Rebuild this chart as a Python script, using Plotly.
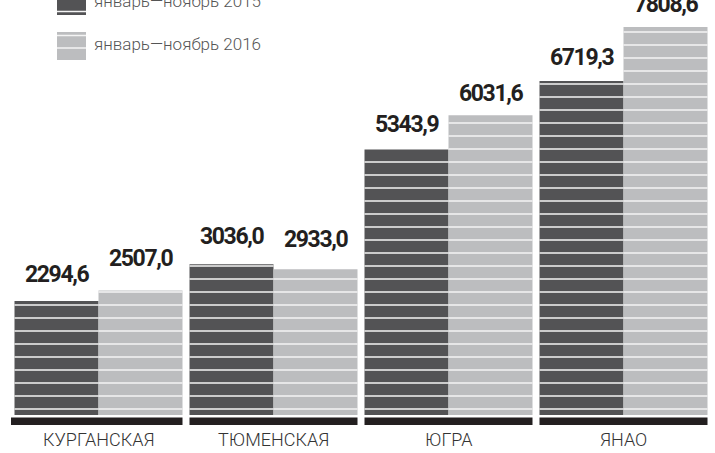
import plotly.graph_objects as go

# ---- data ----
categories = ["КУРГАНСКАЯ", "ТЮМЕНСКАЯ", "ЮГРА", "ЯНАО"]
series_names = ["январь—ноябрь 2015", "январь—ноябрь 2016"]
values_2015 = [2294.6, 3036.0, 5343.9, 6719.3]
values_2016 = [2507.0, 2933.0, 6031.6, 7808.6]
label_2015 = ["2294,6", "3036,0", "5343,9", "6719,3"]
label_2016 = ["2507,0", "2933,0", "6031,6", "7808,6"]

# ---- geometry / style ----
W, H = 715, 453
K = 0.04969            # px per unit
PX = 1.0 / K           # units per px
BASE_PX = 415          # baseline pixel row
y_min = -(H - BASE_PX) * PX
y_max = BASE_PX * PX
C0, PITCH = 98.5, 175.0
x_min = -C0 / PITCH
x_max = (W - C0) / PITCH
BW = 84.0 / PITCH      # single bar width in group units

DARK = "#535355"
LIGHT = "#bcbdbf"
BAND = "#231f20"
STRIPE = "#f4f4f4"

def px_x(px):
    return px / W

def px_y(px):
    return 1 - px / H

fig = go.Figure()
idx = list(range(len(categories)))
fig.add_trace(go.Bar(x=idx, y=values_2015, width=BW, offset=-BW, marker_color=DARK,
                     marker_line_width=0, name=series_names[0], hoverinfo="skip"))
fig.add_trace(go.Bar(x=idx, y=values_2016, width=BW, offset=0, marker_color=LIGHT,
                     marker_line_width=0, name=series_names[1], hoverinfo="skip"))

# white stripes on bars
sx, sy = [], []
for vals, off in ((values_2015, -BW), (values_2016, 0)):
    for i, v in enumerate(vals):
        x0 = i + off
        x1 = x0 + BW
        y = 6 * PX
        while y < v - 0.6 * PX:
            sx += [x0, x1, None]
            sy += [y, y, None]
            y += 13 * PX
fig.add_trace(go.Scatter(x=sx, y=sy, mode="lines", line=dict(color=STRIPE, width=1.5),
                         hoverinfo="skip", showlegend=False))

shapes = []
# baseline bands
for i in idx:
    shapes.append(dict(type="rect", xref="x", yref="y", x0=i - BW - (3.5 / PITCH if i == 0 else 0),
                       x1=i + BW, y0=-10 * PX, y1=-2.4 * PX, fillcolor=BAND, line_width=0))

annotations = []
label_font = dict(family="Roboto, sans-serif", size=23, color=BAND, weight="bold")
gaps_2015 = [16, 17, 14.5, 12.8]
gaps_2016 = [21, 19, 11, 12]
for labels, vals, off, gaps in ((label_2015, values_2015, -BW / 2, gaps_2015),
                                (label_2016, values_2016, BW / 2, gaps_2016)):
    for i in range(len(vals)):
        annotations.append(dict(x=i + off, y=vals[i], xref="x", yref="y",
                                text='<span style="letter-spacing:-1.4px">' + labels[i] + '</span>',
                                showarrow=False, yanchor="bottom", yshift=gaps[i] - 5,
                                font=label_font))

# category labels
for i, c in enumerate(categories):
    annotations.append(dict(x=i, y=px_y(439.7), xref="x", yref="paper", text=c,
                            showarrow=False, yanchor="middle",
                            font=dict(family="Roboto", size=18, color="#333333", weight=300)))

# legend
sw = [(-13, 15, DARK, [-1.5, 11.5]), (32, 60, LIGHT, [35.5, 48])]
for (t0, t1, col, st), name, cy in zip(sw, series_names, (1.2, 43.5)):
    shapes.append(dict(type="rect", xref="paper", yref="paper", x0=px_x(57), x1=px_x(86),
                       y0=px_y(t1), y1=px_y(t0), fillcolor=col, line_width=0))
    for s in st:
        shapes.append(dict(type="line", xref="paper", yref="paper", x0=px_x(57), x1=px_x(86),
                           y0=px_y(s), y1=px_y(s), line=dict(color=STRIPE, width=1.5)))
    annotations.append(dict(x=px_x(92), y=px_y(cy), xref="paper", yref="paper", text=name,
                            showarrow=False, xanchor="left", yanchor="middle",
                            font=dict(family="Roboto", size=17, color="#555555", weight=300)))

fig.update_layout(
    width=W, height=H, margin=dict(l=0, r=0, t=0, b=0),
    paper_bgcolor="white", plot_bgcolor="white",
    barmode="overlay", showlegend=False,
    xaxis=dict(range=[x_min, x_max], visible=False, fixedrange=True),
    yaxis=dict(range=[y_min, y_max], visible=False, fixedrange=True),
    shapes=shapes, annotations=annotations,
)
fig.write_html("out.html", config={"displayModeBar": False},
               post_script="document.body.style.margin='0';document.body.style.overflow='hidden';")
